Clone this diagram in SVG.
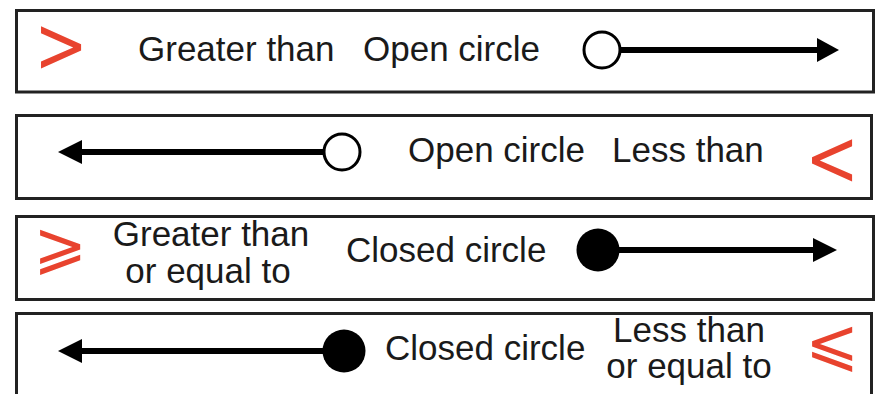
<svg xmlns="http://www.w3.org/2000/svg" width="875" height="394" viewBox="0 0 875 394">
  <style>
    .box { fill: #ffffff; stroke: #222222; stroke-width: 3; }
    .lbl { font-family: "Liberation Sans", Arial, Helvetica, sans-serif; font-size: 35px; fill: #1a1a1a; }
    .sym { font-family: "DejaVu Sans", sans-serif; font-size: 64px; fill: #e8432e; text-anchor: middle; }
    .mid { text-anchor: middle; }
    .shaft { stroke: #000000; stroke-width: 6; fill: none; }
    .head { fill: #000000; }
    .open { fill: #ffffff; stroke: #000000; stroke-width: 3; }
    .closed { fill: #000000; }
  </style>
  <rect width="875" height="394" fill="#ffffff"/>

  <!-- row 1: greater than, open circle -->
  <g id="row-greater">
    <rect class="box" x="16.5" y="10.5" width="857" height="81.5"/>
    <text class="sym" x="61" y="67" transform="translate(0,46) scale(1,1.22) translate(0,-46)">&gt;</text>
    <text class="lbl" x="138" y="61">Greater than</text>
    <text class="lbl" x="363" y="61">Open circle</text>
  </g>

  <!-- row 2: less than, open circle -->
  <g id="row-less">
    <rect class="box" x="16.5" y="115.5" width="855" height="83"/>
    <text class="lbl" x="408" y="162">Open circle</text>
    <text class="lbl" x="612" y="162">Less than</text>
    <text class="sym" x="832" y="180" transform="translate(0,159) scale(1,1.22) translate(0,-159)">&lt;</text>
  </g>

  <!-- row 3: greater than or equal to, closed circle -->
  <g id="row-greater-equal">
    <rect class="box" x="16.5" y="216.5" width="857" height="83"/>
    <text class="sym" x="60" y="267" font-size="66">⩾</text>
    <text class="lbl mid" x="211" y="246">Greater than</text>
    <text class="lbl mid" x="208" y="283">or equal to</text>
    <text class="lbl" x="346" y="262">Closed circle</text>
  </g>

  <!-- row 4: less than or equal to, closed circle -->
  <g id="row-less-equal">
    <rect class="box" x="16.5" y="313.5" width="855" height="100"/>
    <text class="lbl" x="385" y="360">Closed circle</text>
    <text class="lbl mid" x="689" y="342">Less than</text>
    <text class="lbl mid" x="689" y="378">or equal to</text>
    <text class="sym" x="832" y="364" font-size="66">⩽</text>
  </g>

  <!-- number-line rays -->
  <g id="connectors">
    <line class="shaft" x1="620" y1="50" x2="820" y2="50"/>
    <polygon class="head" points="817,38 839,50 817,62"/>
    <circle class="open" cx="602" cy="50" r="18"/>

    <line class="shaft" x1="80" y1="152" x2="324" y2="152"/>
    <polygon class="head" points="82,140 58,152 82,164"/>
    <circle class="open" cx="342" cy="152" r="18"/>

    <line class="shaft" x1="598" y1="250" x2="816" y2="250"/>
    <polygon class="head" points="813,238 837,250 813,262"/>
    <circle class="closed" cx="598" cy="250" r="21.5"/>

    <line class="shaft" x1="80" y1="351" x2="344" y2="351"/>
    <polygon class="head" points="82,339 58,351 82,363"/>
    <circle class="closed" cx="344" cy="351" r="21.5"/>
  </g>
</svg>
